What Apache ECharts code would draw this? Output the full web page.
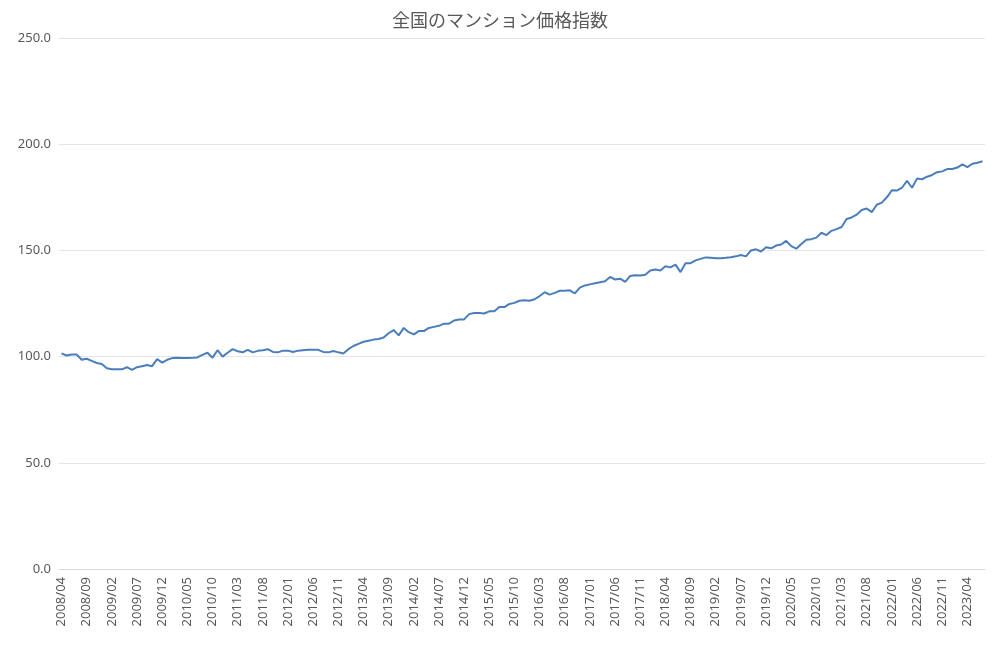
<!DOCTYPE html>
<html><head><meta charset="utf-8">
<script src="https://cdn.jsdelivr.net/npm/echarts@6/dist/echarts.min.js"></script>
<style>html,body{margin:0;background:#fff}#chart{width:1000px;height:655px}</style>
</head><body><div id="chart"></div>
<script>
var startYear = 2008, startMonth = 4;
var values = [
101.5,100.5,101,101,98.5,99,98,97,96.5,
94.5,94,94,94,95,93.8,95,95.5,96,95.5,98.8,97.2,
98.5,99.3,99.5,99.3,99.3,99.4,99.6,100.8,101.8,99.5,103,100,
101.8,103.5,102.5,102,103.2,102,102.7,103,103.5,102.2,102,102.8,
102.8,102.2,102.8,103,103.2,103.2,103.2,102.2,102,102.6,102,101.5,
103.5,105,106,107,107.5,108,108.3,109,111,112.5,110,113.5,
111.5,110.5,112,112,113.5,114,114.5,115.5,115.5,117,117.5,117.5,
120,120.5,120.5,120.3,121.3,121.3,123.3,123.3,124.8,125.3,126.3,126.5,
126.3,127,128.5,130.3,129.2,130,131,131,131.2,129.8,132.5,133.5,
134,134.5,135,135.5,137.5,136.3,136.7,135.2,138,138.3,138.2,138.5,
140.5,141,140.5,142.5,142,143.3,139.8,144,144,145.3,146,146.7,
146.5,146.3,146.3,146.5,146.8,147.2,147.8,147.2,150,150.5,149.5,151.5,
151,152.3,152.8,154.5,152,150.8,153,155,155.3,156,158.3,157.2,
159.2,160,161,164.8,165.5,166.8,169,169.7,168,171.5,172.5,175,
178.3,178.2,179.5,182.8,179.5,183.8,183.5,184.7,185.5,186.8,187.2,188.3,
188.3,189,190.5,189.2,190.8,191.3,192
];
var categories = [];
for (var i = 0; i < values.length; i++) {
    var m = startMonth - 1 + i;
    var y = startYear + Math.floor(m / 12);
    var mm = (m % 12) + 1;
    categories.push(y + '/' + (mm < 10 ? '0' + mm : mm));
}
var yTicks = [0, 50, 100, 150, 200, 250];

var myChart = echarts.init(document.getElementById('chart'));
var option = {
    title: {
        text: '全国のマンション価格指数', left: 'center', top: 6,
        textStyle: {fontFamily: 'Noto Sans CJK JP', fontSize: 18, fontWeight: 'normal', color: '#595959'}
    },
    grid: {left: 59, right: 15, top: 38, bottom: 86},
    xAxis: {
        type: 'category', data: categories, boundaryGap: true,
        axisLine: {lineStyle: {color: '#d9d9d9'}},
        axisTick: {show: false},
        axisLabel: {interval: 4, rotate: 90, color: '#595959', fontSize: 13, fontFamily: 'Noto Sans'}
    },
    yAxis: {
        type: 'value', min: yTicks[0], max: yTicks[yTicks.length - 1], interval: 50,
        axisLine: {show: false}, axisTick: {show: false},
        splitLine: {lineStyle: {color: '#e6e6e6'}},
        axisLabel: {color: '#595959', fontSize: 13, fontFamily: 'Noto Sans',
            formatter: function (v) { return v.toFixed(1); }}
    },
    series: [{
        type: 'line', data: values, symbol: 'none',
        lineStyle: {color: '#4a7ebb', width: 2}
    }]
};
myChart.setOption(option);
</script></body></html>
